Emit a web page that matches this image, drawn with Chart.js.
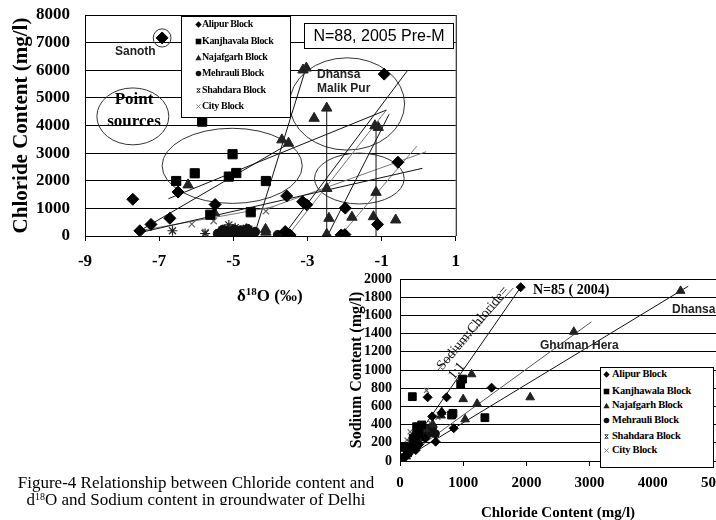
<!DOCTYPE html>
<html><head><meta charset="utf-8">
<script src="https://cdn.jsdelivr.net/npm/chart.js@4.4.0/dist/chart.umd.min.js"></script>
<style>
html,body{margin:0;padding:0;background:#fff;width:716px;height:520px;overflow:hidden;}
body{position:relative;}
canvas{position:absolute;}
#c1{left:0;top:0;}
#c2{left:340px;top:265px;}
.t{position:absolute;white-space:nowrap;color:#000;line-height:1;}
.serif{font-family:"Liberation Serif","Times New Roman",serif;font-weight:bold;}
.sans{font-family:"Liberation Sans",Arial,sans-serif;}
.legend{position:absolute;border:1px solid #000;background:#fff;box-sizing:border-box;}
.row{position:absolute;left:0;white-space:nowrap;font-family:"Liberation Serif","Times New Roman",serif;font-weight:bold;color:#000;line-height:1;}
.row svg{position:absolute;}
.row span{position:absolute;}
#cap{position:absolute;left:0;top:474px;width:392px;height:31px;overflow:hidden;text-align:center;font-family:"Liberation Serif","Times New Roman",serif;font-size:17px;line-height:17px;color:#000;}
</style>
</head><body>
<canvas id="c1" width="470" height="300"></canvas>
<canvas id="c2" width="400" height="265"></canvas>

<div class="t sans" style="left:115px;top:45px;font-size:12px;font-weight:bold;color:#222;">Sanoth</div>
<div class="t serif" style="left:134px;top:90px;font-size:17px;transform:translateX(-50%);">Point</div>
<div class="t serif" style="left:134px;top:112px;font-size:17px;transform:translateX(-50%);">sources</div>
<div class="t sans" style="left:317px;top:68px;font-size:12px;font-weight:bold;color:#222;">Dhansa</div>
<div class="t sans" style="left:317px;top:82px;font-size:12px;font-weight:bold;color:#222;">Malik Pur</div>
<div class="t sans" style="left:304px;top:23px;width:150px;height:26px;border:1px solid #000;box-sizing:border-box;background:#fff;font-size:16px;text-align:center;line-height:24px;">N=88, 2005 Pre-M</div>
<div class="t serif" style="left:237px;top:287px;font-size:17px;">&delta;<sup style="font-size:11px;vertical-align:6px;line-height:0;">18</sup>O (&permil;)</div>

<div class="t serif" style="left:533px;top:283px;font-size:14px;">N=85 ( 2004)</div>
<div class="t sans" style="left:672px;top:303px;font-size:12px;font-weight:bold;color:#222;">Dhansa</div>
<div class="t sans" style="left:540px;top:339px;font-size:12px;font-weight:bold;color:#222;">Ghuman Hera</div>
<div class="t" style="left:433px;top:363px;font-family:'Liberation Serif',serif;font-size:14px;line-height:15px;transform-origin:0 0;transform:rotate(-50deg);color:#111;">Sodium:Chloride=<br>1:1</div>

<div id="leg1" class="legend" style="left:181px;top:16px;width:110px;height:102px;"></div>
<div id="leg2" class="legend" style="left:600px;top:367px;width:114px;height:101px;"></div>

<div id="cap">Figure-4 Relationship between Chloride content and<br>d<sup style="font-size:10px;vertical-align:5px;line-height:0;">18</sup>O and Sodium content in groundwater of Delhi</div>

<script>
// ---------- categories ----------
const blocks = ['Alipur Block','Kanjhavala Block','Najafgarh Block','Mehrauli Block','Shahdara Block','City Block'];
const blocks2 = ['Alipur Block','Kanjhawala Block','Najafgarh Block','Mehrauli Block','Shahdara Block','City Block'];

// ---------- Chart 1: delta18O (x) vs Chloride (y) ----------
const xTicks1 = [-9,-7,-5,-3,-1,1];
const alipurO18 = [-6.92,-7.71,-6.49,-5.49,-6.71,-7.22,-7.52,-3.56,-3.13,-3.02,-1.98,-1.11,-0.93,-0.56,-3.60,-3.47,-2.09,-1.99];
const alipurCl1 = [7170,1330,1590,1140,640,420,190,1450,1240,1130,1010,420,5860,2670,160,40,40,50];
const kanjO18 = [-5.84,-6.54,-6.04,-5.12,-4.92,-5.02,-4.12,-5.62,-4.53];
const kanjCl1 = [4140,1990,2270,2150,2280,2960,1990,770,860];
const najO18 = [-6.22,-5.51,-3.69,-3.51,-3.12,-3.03,-2.82,-2.48,-1.18,-1.09,-2.48,-1.15,-2.42,-1.80,-1.22,-0.62,-2.48,-4.13,-4.12];
const najCl1 = [1850,840,3480,3360,6010,6080,4260,4630,3990,3930,1720,1580,640,680,700,580,60,240,140];
const mehO18 = [-5.42,-5.33,-5.25,-5.18,-5.10,-5.02,-4.95,-4.88,-4.80,-4.72,-4.66,-4.58,-4.52,-4.46,-4.41,-5.28,-4.98,-4.62,-3.80,-3.68];
const mehCl1 = [80,150,40,190,100,50,160,90,210,130,60,180,110,70,150,230,240,260,40,30];
const shahO18 = [-6.64,-5.76,-5.12,-5.30,-4.95,-4.65,-4.50];
const shahCl1 = [190,90,400,220,300,280,200];
const cityO18 = [-6.12,-5.53,-5.75,-4.12,-5.40,-4.40,-5.00];
const cityCl1 = [430,540,140,900,120,150,180];
// trend / guide lines [x1,y1,x2,y2] in data units
const blackLines1 = [
  [-7.6,130,-3.45,3380],
  [-6.75,1350,-0.87,4560],
  [-7.5,130,0.1,2450],
  [-4.42,100,-3.04,6080],
  [-3.62,60,-0.29,6010],
  [-2.48,0,-2.48,4630],
  [-1.15,0,-1.15,3990],
  [-2.45,30,-0.8,4400]
];
const grayLines1 = [
  [-7.4,220,-3.9,1060],
  [-4.07,1000,0.2,3050],
  [-3.5,60,-0.87,4560],
  [-2.1,30,-0.05,3250]
];
// ellipses [cx, cy, rx, ry] in data units
const ellipses1 = [
  [-6.92,7170,0.24,330],
  [-7.71,4330,0.97,1030],
  [-5.03,2540,1.89,1360],
  [-1.93,4780,1.55,1670],
  [-1.60,2080,1.21,920]
];

// ---------- Chart 2: Chloride (x) vs Sodium (y) ----------
const alipurCl2 = [1910,437,737,1449,850,564,659,510,100,150,300,400,200,250,60];
const alipurNa2 = [1910,700,700,806,360,212,531,490,60,110,180,250,150,120,40];
const kanjCl2 = [195,990,960,1343,816,838,263,343,60,30,150,210,250,300,120];
const kanjNa2 = [707,900,845,476,505,524,377,396,150,160,150,250,260,300,90];
const najCl2 = [4440,2750,1133,1000,1220,2060,1030,660,520,650,350,200,100,400];
const najNa2 = [1870,1420,953,680,630,700,458,540,400,500,250,150,50,350];
const mehCl2 = [330,380,420,450,500,520,280,350,150,200,240,300,60,110,250,474,560];
const mehNa2 = [360,330,350,300,340,370,260,280,100,140,200,250,40,80,300,362,300];
const shahCl2 = [250,300,120,60,380,180];
const shahNa2 = [170,300,90,50,280,230];
const cityCl2 = [420,160,110,600,200,330,480];
const cityNa2 = [775,320,230,480,150,250,420];
const blackLines2 = [[0,0,1900,1900],[0,0,4560,1920]];
const grayLines2 = [[600,1000,1790,1900],[0,0,3030,1530]];

// ---------- helpers ----------
Chart.defaults.font.family = "'Liberation Serif','Times New Roman',serif";
Chart.defaults.color = '#000';
const plain = v => String(v);

function xy(xs, ys){ return xs.map((x,i)=>({x:x, y:ys[i]})); }
function seg(list, color){
  return list.map(s=>({data:[{x:s[0],y:s[1]},{x:s[2],y:s[3]}], showLine:true, borderColor:color, borderWidth:1, pointRadius:0, fill:false, order:10}));
}
const styles = ['rectRot','rect','triangle','circle','star','crossRot'];
const colors = ['#000','#000','#222','#111','#222','#666'];

function series(names, pairs, radii){
  return pairs.map((p,i)=>({
    label:names[i], data:xy(p[0],p[1]), showLine:false,
    pointStyle:styles[i], pointRadius:radii[i],
    backgroundColor:colors[i], borderColor:colors[i], borderWidth:(i>=4?1.2:1), order:1
  }));
}

const frame1 = {id:'frame1', afterDraw(chart){
  const {ctx, chartArea:a} = chart;
  ctx.save(); ctx.strokeStyle='#000'; ctx.lineWidth=1;
  ctx.beginPath(); ctx.moveTo(a.right+0.5,a.top); ctx.lineTo(a.right+0.5,a.bottom); ctx.stroke();
  ctx.restore();
}};
const ellPlugin = {id:'ell', beforeDatasetsDraw(chart){
  const {ctx, scales:{x,y}} = chart;
  ctx.save(); ctx.strokeStyle='#333'; ctx.lineWidth=1;
  ellipses1.forEach(e=>{
    const cx=x.getPixelForValue(e[0]), cy=y.getPixelForValue(e[1]);
    const rx=Math.abs(x.getPixelForValue(e[0]+e[2])-cx), ry=Math.abs(y.getPixelForValue(e[1]+e[3])-cy);
    ctx.beginPath(); ctx.ellipse(cx,cy,rx,ry,0,0,Math.PI*2); ctx.stroke();
  });
  ctx.restore();
}};

// ---------- Chart 1 ----------
new Chart(document.getElementById('c1'), {
  type:'scatter',
  data:{datasets:[
    ...seg(blackLines1,'#111'), ...seg(grayLines1,'#777'),
    ...series(blocks, [[alipurO18,alipurCl1],[kanjO18,kanjCl1],[najO18,najCl1],[mehO18,mehCl1],[shahO18,shahCl1],[cityO18,cityCl1]], [6,6.5,6,4.5,5,4.5])
  ]},
  options:{
    responsive:false, animation:false, events:[],
    layout:{padding:{top:15,right:10,left:0,bottom:0}},
    plugins:{legend:{display:false}, tooltip:{enabled:false}},
    scales:{
      x:{type:'linear', min:-9, max:1,
        afterBuildTicks(s){ s.ticks = xTicks1.map(v=>({value:v})); },
        ticks:{color:'#000', font:{size:17, weight:'bold'}, padding:10, maxRotation:0, autoSkip:false, callback:plain},
        grid:{drawOnChartArea:false, drawTicks:true, tickLength:5, color:'#000'},
        border:{color:'#000', width:1},
        afterFit(s){ s.height = 64; }
      },
      y:{min:0, max:8000,
        ticks:{stepSize:1000, color:'#000', font:{size:17, weight:'bold'}, padding:0, autoSkip:false, callback:plain},
        grid:{color:'#000', drawTicks:true, tickLength:15, tickColor:'rgba(0,0,0,0)'},
        border:{color:'#000', width:1},
        title:{display:true, text:'Chloride Content (mg/l)', color:'#000', font:{size:21, weight:'bold'}, padding:{top:9,bottom:0}},
        afterFit(s){ s.width = 85; }
      }
    }
  },
  plugins:[ellPlugin, frame1]
});

// ---------- Chart 2 ----------
new Chart(document.getElementById('c2'), {
  type:'scatter',
  data:{datasets:[
    ...seg(blackLines2,'#111'), ...seg(grayLines2,'#555'),
    ...series(blocks2, [[alipurCl2,alipurNa2],[kanjCl2,kanjNa2],[najCl2,najNa2],[mehCl2,mehNa2],[shahCl2,shahNa2],[cityCl2,cityNa2]], [4.5,5.5,5,4,4,3.5])
  ]},
  options:{
    responsive:false, animation:false, events:[],
    layout:{padding:{top:14,right:24,left:0,bottom:0}},
    plugins:{legend:{display:false}, tooltip:{enabled:false}},
    scales:{
      x:{type:'linear', min:0, max:5000,
        ticks:{stepSize:1000, color:'#000', font:{size:15, weight:'bold'}, padding:8, maxRotation:0, autoSkip:false, callback:plain},
        grid:{drawOnChartArea:false, drawTicks:true, tickLength:5, color:'#000'},
        border:{color:'#000', width:1},
        title:{display:true, text:'Chloride Content (mg/l)', color:'#000', font:{size:15, weight:'bold'}, padding:{top:0,bottom:8}},
        afterFit(s){ s.height = 69; }
      },
      y:{min:0, max:2000,
        ticks:{stepSize:200, color:'#000', font:{size:14, weight:'bold'}, padding:0, autoSkip:false, callback:plain},
        grid:{color:'#000', drawTicks:true, tickLength:8, tickColor:'rgba(0,0,0,0)'},
        border:{color:'#000', width:1},
        title:{display:true, text:'Sodium Content (mg/l)', color:'#000', font:{size:16, weight:'bold'}, padding:{top:7,bottom:0}},
        afterFit(s){ s.width = 60; }
      }
    }
  }
});

// ---------- HTML legends ----------
const markerSvg = [
  '<polygon points="5,0.5 9.5,5 5,9.5 0.5,5" fill="#000"/>',
  '<rect x="1" y="1" width="8" height="8" fill="#000"/>',
  '<polygon points="5,1 9.5,9 0.5,9" fill="#222"/>',
  '<circle cx="5" cy="5" r="4" fill="#111"/>',
  '<path d="M2.5,2.5 L7.5,7.5 M7.5,2.5 L2.5,7.5 M2.5,2.5 L7.5,2.5 M2.5,7.5 L7.5,7.5" stroke="#222" stroke-width="1.2" fill="none"/>',
  '<path d="M2,2 L8,8 M8,2 L2,8" stroke="#666" stroke-width="1.2" fill="none"/>'
];
function buildLegend(id, names, rowsY, mx, tx, size, fsize, ls){
  const box = document.getElementById(id);
  names.forEach((n,i)=>{
    const r = document.createElement('div');
    r.className='row';
    r.style.top = (rowsY[i]-fsize/2)+'px';
    r.style.fontSize = fsize+'px';
    r.style.height = fsize+'px';
    r.style.width = '100%';
    r.innerHTML = '<svg width="'+size+'" height="'+size+'" viewBox="0 0 10 10" style="left:'+(mx-size/2)+'px;top:'+((fsize-size)/2)+'px">'+markerSvg[i]+'</svg>'+
      '<span style="left:'+tx+'px;top:0;letter-spacing:'+ls+'px">'+n+'</span>';
    box.appendChild(r);
  });
}
buildLegend('leg1', blocks, [7,24,40,56,73,89], 16, 20, 7, 10, -0.35);
buildLegend('leg2', blocks2, [6,23,37,52,68,82], 5, 11, 7, 10.5, -0.25);
</script>
</body></html>
